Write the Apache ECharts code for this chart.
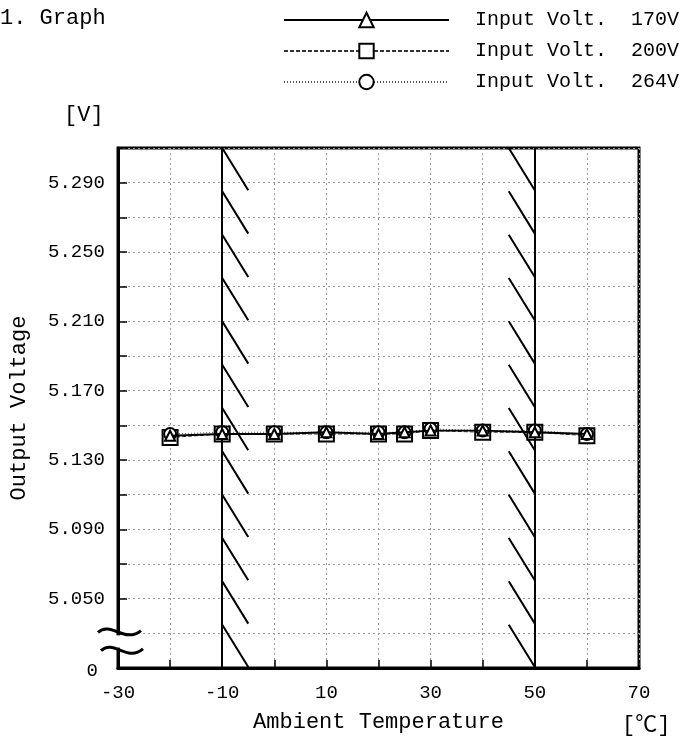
<!DOCTYPE html>
<html>
<head>
<meta charset="utf-8">
<script src="https://cdn.jsdelivr.net/npm/echarts@6/dist/echarts.min.js"></script>
<style>
html,body{margin:0;padding:0;background:#fff;}
#chart{width:683px;height:741px;}
</style>
</head>
<body>
<div id="chart"></div>
<script>
// ---- data ----
const temperatures = [-20, -10, 0, 10, 20, 25, 30, 40, 50, 60];
const volt170 = [5.144, 5.145, 5.145, 5.146, 5.145, 5.146, 5.147, 5.147, 5.146, 5.145];
const volt200 = [5.143, 5.145, 5.145, 5.145, 5.145, 5.145, 5.147, 5.146, 5.146, 5.144];
const volt264 = [5.145, 5.146, 5.146, 5.146, 5.146, 5.146, 5.148, 5.147, 5.147, 5.145];
const seriesNames = ['Input Volt.  170V', 'Input Volt.  200V', 'Input Volt.  264V'];
const xTickLabels = [-30, -10, 10, 30, 50, 70];
const yTickLabels = [5.050, 5.090, 5.130, 5.170, 5.210, 5.250, 5.290];
const yBreakValue = 5.010;
const yBreakLabel = '0';
const limitTemps = [-10, 50];           // operating temperature limits (hatched)
const hatchWidthDeg = 5;                 // hatch horizontal extent in °C
const hatchStepV = 0.025;                // vertical spacing of hatches in V
const hatchDropV = 0.0244;               // vertical extent of a hatch in V

const FONT = '"Liberation Mono", "DejaVu Sans Mono", monospace';
const FONT_CJK = '"Liberation Mono", "Noto Sans CJK JP", monospace';

function pairs(xs, ys) { return xs.map((x, i) => [x, ys[i]]); }

// hatch segments built from the limit lines
const hatchData = [];
limitTemps.forEach((t, li) => {
  for (let k = 0; k < 12; k++) {
    const yTop = 5.310 - k * hatchStepV;
    if (li === 0) hatchData.push([t, yTop, t + hatchWidthDeg, yTop - hatchDropV]);
    else hatchData.push([t - hatchWidthDeg, yTop, t, yTop - hatchDropV]);
  }
});

const chart = echarts.init(document.getElementById('chart'), null, {renderer: 'canvas'});

const option = {
  backgroundColor: '#fff',
  animation: false,
  grid: {left: 112, right: 44, top: 148, bottom: 73, show: true, borderColor: '#000', borderWidth: 3, backgroundColor: 'transparent', containLabel: false},
  legend: {
    orient: 'vertical', left: 278, top: 3,
    itemWidth: 165, itemHeight: 18, itemGap: 7,
    data: seriesNames,
    textStyle: {fontFamily: FONT, fontSize: 20, color: '#000', lineHeight: 24, padding: [0, 0, 0, 21]},
    selectedMode: false
  },
  xAxis: {
    type: 'value', min: -30, max: 70, interval: 10,
    name: 'Ambient Temperature', nameLocation: 'middle', nameGap: 43,
    nameTextStyle: {fontFamily: FONT, fontSize: 22, color: '#000'},
    axisLine: {show: true, onZero: false, lineStyle: {color: '#000', width: 3}},
    axisTick: {show: true, inside: true, length: 8, lineStyle: {color: '#000', width: 1.5}},
    axisLabel: {
      margin: 15, fontFamily: FONT, fontSize: 19, color: '#000',
      formatter: v => xTickLabels.indexOf(Math.round(v)) >= 0 ? String(Math.round(v)) : ''
    },
    splitLine: {show: true, lineStyle: {type: [2, 3], color: '#9a9a9a', width: 1}}
  },
  yAxis: {
    type: 'value', min: 5.01, max: 5.31, interval: 0.02,
    name: 'Output Voltage', nameLocation: 'middle', nameGap: 88, nameRotate: 90,
    nameTextStyle: {fontFamily: FONT, fontSize: 22, color: '#000'},
    axisLine: {show: true, onZero: false, lineStyle: {color: '#000', width: 3}},
    axisTick: {show: true, inside: true, length: 9, lineStyle: {color: '#000', width: 1.5}},
    axisLabel: {
      margin: 13, fontFamily: FONT, fontSize: 19, color: '#000',
      formatter: v => {
        const mv = Math.round(v * 1000);
        if (mv === Math.round(yBreakValue * 1000)) return '{z|' + yBreakLabel + '}';
        const hit = yTickLabels.find(t => Math.round(t * 1000) === mv);
        return hit !== undefined ? hit.toFixed(3) : '';
      },
      rich: {z: {fontFamily: FONT, fontSize: 19, color: '#000', padding: [6, 7, 0, 0]}}
    },
    splitLine: {show: true, lineStyle: {type: [2, 3], color: '#9a9a9a', width: 1}}
  },
  series: [
    {
      name: seriesNames[0], type: 'line', data: pairs(temperatures, volt170),
      symbol: 'emptyTriangle', symbolSize: 10, z: 5,
      lineStyle: {color: '#000', width: 1.8, type: 'solid'},
      itemStyle: {color: '#000', borderColor: '#000', borderWidth: 2}
    },
    {
      name: seriesNames[1], type: 'line', data: pairs(temperatures, volt200),
      symbol: 'emptyRect', symbolSize: 15, z: 3,
      lineStyle: {color: '#333', width: 1, type: [4, 2]},
      itemStyle: {color: '#000', borderColor: '#000', borderWidth: 2.5}
    },
    {
      name: seriesNames[2], type: 'line', data: pairs(temperatures, volt264),
      symbol: 'emptyCircle', symbolSize: 12, z: 4,
      lineStyle: {color: '#555', width: 1, type: [1, 2]},
      itemStyle: {color: '#000', borderColor: '#000', borderWidth: 2}
    },
    {
      name: 'limits', type: 'custom', silent: true, z: 2,
      data: hatchData,
      encode: {x: [0, 2], y: [1, 3]},
      renderItem: (params, api) => {
        const p0 = api.coord([api.value(0), api.value(1)]);
        const p1 = api.coord([api.value(2), api.value(3)]);
        return {type: 'line', shape: {x1: p0[0], y1: p0[1], x2: p1[0], y2: p1[1]},
                style: {stroke: '#000', lineWidth: 2}};
      },
      markLine: {
        silent: true, symbol: 'none', label: {show: false},
        lineStyle: {color: '#000', width: 2, type: 'solid'},
        data: limitTemps.map(t => ({xAxis: t}))
      }
    }
  ]
};
chart.setOption(option);

// axis break symbol and extra texts
const pA = chart.convertToPixel({gridIndex: 0}, [-30, 5.030]);
const pB = chart.convertToPixel({gridIndex: 0}, [-30, 5.020]);
const ax = pA[0], y1 = pA[1] - 1, y2 = pB[1];
function wave(x0, y0, w, amp) {
  return {type: 'bezierCurve', z: 101,
    shape: {x1: x0, y1: y0, x2: x0 + w, y2: y0 - amp * 0.4,
            cpx1: x0 + w * 0.3, cpy1: y0 - amp * 2.6, cpx2: x0 + w * 0.62, cpy2: y0 + amp * 2.6},
    style: {fill: null, stroke: '#000', lineWidth: 3}};
}
chart.setOption({
  graphic: [
    {type: 'rect', shape: {x: ax - 4, y: y1 + 3, width: 8, height: y2 - y1 - 6}, style: {fill: '#fff'}, z: 100},
    wave(ax - 20, y1, 43, 4.5),
    wave(ax - 17, y2, 42, 4.5),
    {type: 'text', left: 0, top: 7, style: {text: '1. Graph', fontFamily: FONT, fontSize: 22, fill: '#000'}},
    {type: 'text', left: 64, top: 104, style: {text: '[V]', fontFamily: FONT, fontSize: 22, fill: '#000'}},
    {type: 'text', left: 622, top: 714, style: {text: '[℃]', fontFamily: FONT_CJK, fontSize: 22, fill: '#000'}}
  ]
});
</script>
</body>
</html>
